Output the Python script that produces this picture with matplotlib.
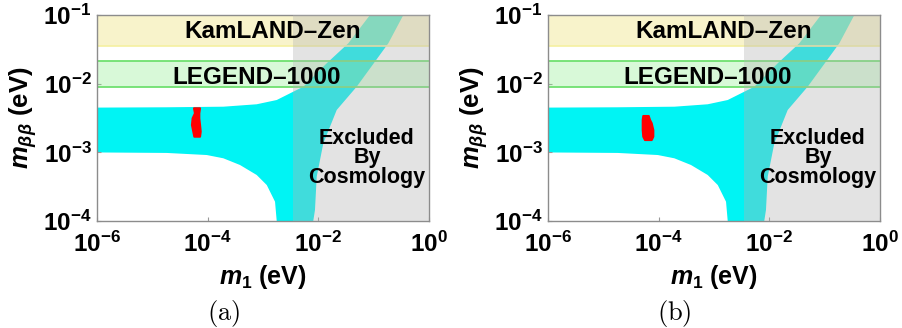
import matplotlib
matplotlib.use("Agg")
import matplotlib.pyplot as plt
from matplotlib.ticker import FixedLocator, FixedFormatter

plt.rcParams["font.family"] = ["Liberation Sans", "DejaVu Sans"]
plt.rcParams["mathtext.fontset"] = "custom"
plt.rcParams["mathtext.rm"] = "Liberation Sans:bold"
plt.rcParams["mathtext.bf"] = "Liberation Sans:bold"
plt.rcParams["mathtext.it"] = "Liberation Sans:bold:italic"
plt.rcParams["mathtext.default"] = "rm"

# Allowed region of m_bb vs m1 (normal ordering), outline of the scanned points
allowed_m1 = [5e-7, 1.82e-5, 1.92e-4, 7.69e-4, 1.77e-3, 3.53e-3, 5.36e-3, 1.416e-2,
              3.48e-2, 8.59e-2, 0.128,
              0.52, 0.344, 0.184, 4.93e-2, 2.15e-2, 1.23e-2, 9.35e-3, 8.7e-3, 8.1e-3, 8.1e-3,
              1.77e-3, 1.77e-3, 1.65e-3, 1.17e-3, 7.69e-4, 3.84e-4, 1.92e-4, 9.62e-5,
              1.82e-5, 5e-7]
allowed_mbb = [4.47e-3, 4.53e-3, 4.62e-3, 5.01e-3, 5.78e-3, 7.64e-3, 9.03e-3, 1.98e-2,
               3.87e-2, 0.1, 0.15,
               0.15, 0.1, 3.87e-2, 9.03e-3, 4.14e-3, 1.35e-3, 4.42e-4, 1.45e-4, 1.0e-4, 5e-5,
               5e-5, 1.0e-4, 1.91e-4, 3.34e-4, 4.68e-4, 6.54e-4, 8.19e-4, 9.14e-4,
               9.8e-4, 1.0e-3]

# Model predictions (red regions) for the two cases
pred_a_m1 = [5.66e-5, 7.28e-5, 7.06e-5, 7.06e-5, 7.28e-5, 7.48e-5, 7.28e-5,
             5.74e-5, 5.5e-5, 5.2e-5, 5.35e-5, 5.9e-5]
pred_a_mbb = [4.38e-3, 4.38e-3, 3.7e-3, 3.13e-3, 2.5e-3, 2.0e-3, 1.69e-3,
              1.69e-3, 2.0e-3, 2.5e-3, 3.13e-3, 3.7e-3]
pred_b_m1 = [5.27e-5, 6.61e-5, 6.97e-5, 7.48e-5, 8.0e-5, 8.0e-5, 7.48e-5,
             5.66e-5, 5.27e-5, 5.15e-5, 5.15e-5, 5.15e-5]
pred_b_mbb = [3.38e-3, 3.38e-3, 2.96e-3, 2.65e-3, 2.11e-3, 1.69e-3, 1.51e-3,
              1.51e-3, 1.69e-3, 2.11e-3, 2.65e-3, 2.96e-3]

# Experimental sensitivities and cosmological bound
kamland_zen = (0.035, 0.12)
legend_1000 = (0.0089, 0.0214)
cosmo_m1_min = 0.0035

x_ticks = [1e-6, 1e-4, 1e-2, 1e0]
x_labels = [r"$10^{-6}$", r"$10^{-4}$", r"$10^{-2}$", r"$10^{0}$"]
y_ticks = [1e-4, 1e-3, 1e-2, 1e-1]
y_labels = [r"$10^{-4}$", r"$10^{-3}$", r"$10^{-2}$", r"$10^{-1}$"]

panels = [("(a)", pred_a_m1, pred_a_mbb), ("(b)", pred_b_m1, pred_b_mbb)]

fig = plt.figure(figsize=(9.02, 3.28), dpi=100)
lefts = [97 / 902, 548 / 902]

for left, (tag, pm1, pmbb) in zip(lefts, panels):
    ax = fig.add_axes([left, 107 / 328, 332 / 902, 206 / 328])
    ax.set_xscale("log")
    ax.set_yscale("log")
    ax.set_xlim(1e-6, 1e0)
    ax.set_ylim(1e-4, 1e-1)

    ax.fill(allowed_m1, allowed_mbb, color="#00f4f4", lw=0, zorder=1)

    ax.axhspan(*kamland_zen, color="#f0e68c", alpha=0.45, lw=0, zorder=2)
    ax.axhline(kamland_zen[0], color="#f5f0a0", lw=1.2, zorder=2)
    ax.axhspan(*legend_1000, color="#90ee90", alpha=0.35, lw=0, zorder=2)
    for yv in legend_1000:
        ax.axhline(yv, color="#6fe06f", lw=1.3, zorder=2)

    ax.axvspan(cosmo_m1_min, 1.0, color="#b4b4b4", alpha=0.36, lw=0, zorder=3)

    ax.fill(pm1, pmbb, color="red", lw=1.5, ec="red", joinstyle="round", zorder=4)

    ax.text(0.529, 0.922, "KamLAND\u2013Zen", transform=ax.transAxes, ha="center",
            va="center", fontsize=17.5, fontweight="bold", zorder=5)
    ax.text(0.482, 0.699, "LEGEND\u20131000", transform=ax.transAxes, ha="center",
            va="center", fontsize=17.5, fontweight="bold", zorder=5)
    ax.text(0.813, 0.306, "Excluded\nBy\nCosmology", transform=ax.transAxes,
            ha="center", va="center", fontsize=15.5, fontweight="bold",
            linespacing=0.92, zorder=5)

    ax.xaxis.set_major_locator(FixedLocator(x_ticks))
    ax.xaxis.set_major_formatter(FixedFormatter(x_labels))
    ax.yaxis.set_major_locator(FixedLocator(y_ticks))
    ax.yaxis.set_major_formatter(FixedFormatter(y_labels))
    ax.xaxis.set_minor_locator(FixedLocator([]))
    ax.yaxis.set_minor_locator(FixedLocator([]))
    ax.tick_params(direction="in", length=3, width=0.8, color="#999999",
                   labelsize=17.5)
    ax.tick_params(axis="x", pad=8)
    ax.tick_params(axis="y", pad=4)
    for sp in ax.spines.values():
        sp.set_color("#8c8c8c")
        sp.set_linewidth(1.0)

    ax.set_xlabel(r"$\mathit{m}_{1}$ (eV)", fontsize=18, fontweight="bold", labelpad=4)
    ax.set_ylabel(r"$\mathit{m}_{\mathit{\beta\beta}}$ (eV)", fontsize=18.5,
                  fontweight="bold", labelpad=3)

    ax.text(0.38, -0.45, r"$\mathrm{" + tag + "}$", transform=ax.transAxes,
            ha="center", va="center", fontsize=19, math_fontfamily="cm")

fig.savefig("out.png", dpi=100, facecolor="white")
